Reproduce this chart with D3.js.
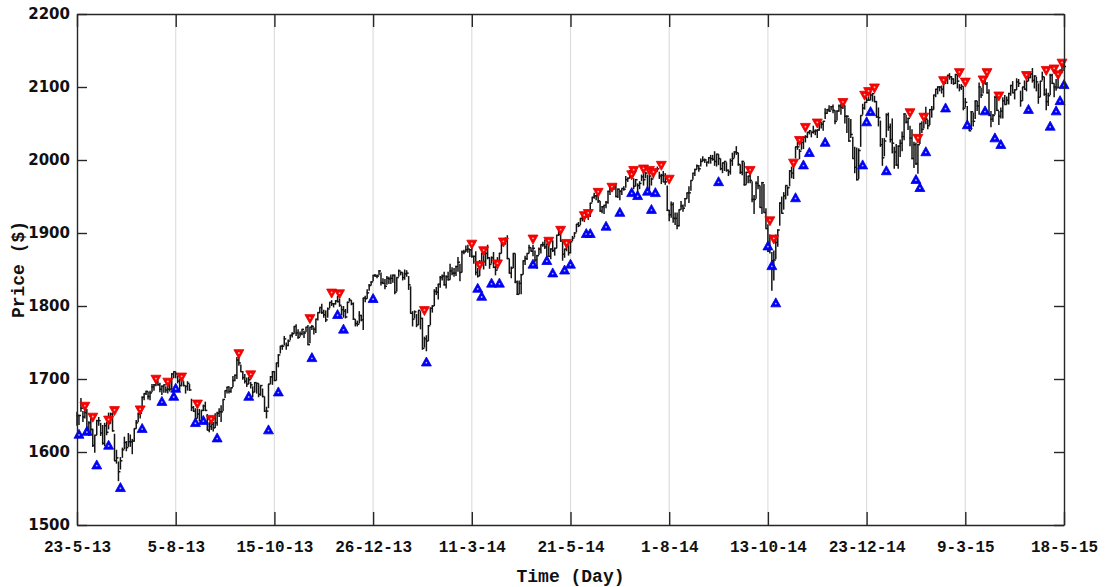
<!DOCTYPE html>
<html>
<head>
<meta charset="utf-8">
<script src="https://cdn.jsdelivr.net/npm/d3@7"></script>
<style>
  body { margin: 0; background: #fff; }
  svg { display: block; }
</style>
</head>
<body>
<svg id="chart" width="1105" height="587"></svg>
<script>
// Daily S&P 500 price bars, one entry per trading day (day 0 .. 500)
const closes = [
  1650,1650,1660,1648,1654,1631,1640,1631,1609,1623,
  1643,1643,1626,1612,1636,1627,1639,1652,1629,1588,
  1592,1573,1588,1603,1613,1606,1614,1614,1615,1632,
  1640,1652,1653,1675,1680,1683,1676,1681,1689,1692,
  1696,1692,1686,1690,1692,1685,1686,1686,1707,1710,
  1707,1697,1691,1698,1691,1690,1694,1685,1661,1656,
  1646,1652,1643,1657,1663,1657,1630,1635,1638,1633,
  1640,1653,1655,1655,1672,1684,1689,1683,1688,1698,
  1705,1726,1722,1710,1702,1697,1693,1699,1692,1682,
  1695,1694,1679,1691,1676,1656,1656,1693,1703,1710,
  1698,1722,1733,1745,1745,1755,1746,1752,1760,1762,
  1772,1763,1757,1762,1768,1763,1771,1747,1771,1772,
  1768,1782,1791,1798,1791,1788,1781,1796,1805,1803,
  1803,1807,1806,1801,1795,1793,1785,1805,1808,1803,
  1782,1776,1775,1787,1781,1811,1810,1818,1828,1833,
  1842,1841,1841,1848,1832,1831,1827,1838,1837,1838,
  1842,1819,1839,1848,1846,1839,1844,1845,1829,1790,
  1782,1792,1774,1794,1783,1742,1755,1752,1773,1797,
  1800,1820,1819,1830,1839,1841,1829,1840,1836,1848,
  1845,1845,1854,1860,1846,1874,1874,1877,1878,1877,
  1868,1868,1846,1841,1859,1872,1861,1872,1866,1857,
  1866,1853,1849,1858,1872,1886,1891,1889,1865,1845,
  1852,1872,1833,1816,1831,1843,1862,1865,1872,1880,
  1875,1879,1863,1869,1878,1884,1884,1881,1885,1868,
  1878,1876,1879,1897,1898,1889,1871,1878,1885,1873,
  1888,1893,1900,1912,1910,1920,1924,1925,1924,1928,
  1941,1949,1951,1951,1944,1930,1936,1938,1942,1957,
  1960,1963,1963,1950,1960,1957,1961,1960,1973,1975,
  1985,1978,1964,1973,1965,1968,1977,1973,1982,1958,
  1978,1974,1984,1987,1988,1978,1979,1970,1970,1931,
  1925,1939,1920,1920,1910,1932,1937,1934,1947,1955,
  1955,1972,1982,1987,1992,1988,1998,2000,2000,1997,
  2003,2002,2001,1998,2008,2002,1988,1996,1998,1986,
  1984,1999,2002,2011,2010,1994,1983,1998,1966,1983,
  1978,1972,1946,1946,1968,1965,1935,1969,1928,1906,
  1875,1878,1862,1863,1887,1904,1941,1927,1951,1965,
  1962,1985,1982,1995,2018,2018,2012,2024,2031,2032,
  2038,2040,2038,2039,2040,2041,2052,2049,2053,2064,
  2069,2067,2073,2068,2053,2067,2074,2072,2075,2060,
  2060,2026,2035,2002,1990,1973,2013,2061,2071,2079,
  2082,2082,2089,2091,2080,2059,2058,2021,2003,2026,
  2062,2045,2028,2023,2011,1993,2019,2023,2032,2063,
  2052,2057,2030,2002,2021,1995,2021,2050,2042,2063,
  2056,2047,2069,2069,2089,2097,2100,2100,2097,2110,
  2110,2116,2114,2111,2105,2117,2108,2099,2101,2071,
  2079,2044,2040,2066,2053,2081,2074,2100,2089,2108,
  2104,2092,2061,2056,2061,2086,2068,2060,2067,2081,
  2076,2082,2091,2102,2092,2096,2107,2105,2081,2100,
  2097,2108,2113,2118,2109,2115,2107,2086,2108,2114,
  2090,2080,2088,2116,2105,2100,2099,2121,2123,2129,
  2128
];

const highs = [
  1655,1651,1674,1656,1662,1659,1642,1647,1632,1623,
  1644,1648,1640,1637,1640,1641,1654,1654,1654,1625,
  1603,1587,1593,1606,1621,1615,1626,1624,1618,1632,
  1644,1654,1655,1676,1680,1684,1683,1684,1693,1693,
  1697,1698,1695,1691,1692,1690,1694,1699,1708,1710,
  1710,1705,1700,1705,1697,1690,1697,1693,1673,1663,
  1660,1659,1659,1657,1665,1669,1652,1641,1646,1641,
  1653,1655,1660,1664,1672,1684,1689,1690,1688,1704,
  1706,1730,1730,1720,1711,1707,1702,1703,1696,1690,
  1696,1694,1694,1691,1687,1676,1662,1693,1704,1711,
  1711,1722,1734,1745,1747,1759,1750,1754,1760,1764,
  1772,1775,1768,1765,1768,1766,1771,1774,1771,1774,
  1771,1782,1791,1798,1803,1795,1794,1798,1805,1808,
  1804,1808,1814,1810,1800,1800,1796,1806,1811,1808,
  1805,1782,1780,1793,1788,1811,1814,1823,1830,1834,
  1842,1844,1843,1849,1846,1838,1837,1841,1840,1843,
  1843,1843,1839,1850,1847,1846,1850,1849,1841,1827,
  1793,1794,1789,1794,1793,1784,1758,1760,1774,1798,
  1801,1823,1826,1830,1841,1843,1847,1842,1847,1858,
  1853,1852,1855,1867,1858,1876,1877,1883,1884,1878,
  1883,1869,1875,1852,1863,1873,1874,1874,1884,1867,
  1868,1874,1855,1867,1873,1886,1893,1894,1897,1865,
  1854,1872,1872,1835,1835,1844,1862,1869,1872,1884,
  1880,1884,1876,1870,1880,1884,1888,1891,1885,1885,
  1879,1890,1880,1897,1903,1898,1888,1878,1886,1884,
  1889,1896,1901,1912,1915,1920,1924,1926,1926,1928,
  1941,1949,1955,1951,1950,1944,1937,1938,1944,1958,
  1963,1964,1964,1968,1961,1959,1961,1964,1978,1976,
  1986,1983,1975,1974,1968,1971,1980,1983,1984,1980,
  1980,1976,1986,1988,1991,1984,1981,1985,1982,1965,
  1932,1943,1942,1928,1928,1932,1944,1939,1948,1955,
  1964,1972,1982,1988,1994,1993,2002,2005,2002,1998,
  2004,2007,2007,2012,2008,2008,2002,1996,1998,1997,
  1987,2002,2010,2012,2019,2010,1994,1999,1997,1984,
  1978,1985,1971,1952,1971,1978,1965,1970,1967,1934,
  1912,1898,1874,1876,1898,1905,1942,1950,1956,1965,
  1964,1986,1991,1999,2018,2025,2015,2024,2032,2034,
  2038,2040,2039,2047,2042,2042,2056,2052,2053,2071,
  2070,2075,2074,2076,2068,2068,2076,2077,2078,2075,
  2061,2058,2056,2032,2018,2017,2016,2061,2077,2079,
  2086,2087,2093,2091,2088,2081,2072,2054,2030,2030,
  2064,2065,2050,2057,2018,2022,2020,2028,2039,2064,
  2062,2058,2047,2042,2025,2024,2022,2050,2053,2064,
  2073,2055,2070,2074,2089,2097,2101,2101,2102,2111,
  2111,2116,2119,2115,2112,2118,2117,2104,2104,2101,
  2085,2074,2050,2067,2065,2081,2081,2106,2099,2108,
  2114,2107,2097,2067,2063,2088,2088,2067,2072,2086,
  2089,2087,2092,2103,2108,2097,2112,2111,2095,2100,
  2109,2109,2121,2120,2126,2116,2114,2105,2108,2121,
  2114,2098,2092,2118,2118,2105,2111,2121,2124,2131,
  2134
];

const lows = [
  1636,1637,1655,1641,1646,1631,1622,1623,1607,1599,
  1623,1636,1622,1610,1608,1623,1631,1639,1628,1588,
  1584,1560,1576,1592,1604,1601,1607,1607,1597,1614,
  1632,1641,1646,1662,1671,1678,1672,1671,1682,1684,
  1690,1691,1682,1678,1681,1681,1680,1683,1686,1701,
  1701,1694,1684,1690,1690,1680,1684,1684,1656,1655,
  1646,1646,1642,1645,1656,1656,1630,1627,1630,1628,
  1633,1636,1648,1641,1656,1674,1680,1680,1681,1689,
  1697,1700,1718,1710,1699,1694,1689,1693,1687,1675,
  1682,1680,1675,1677,1675,1655,1646,1660,1693,1692,
  1697,1698,1716,1735,1740,1746,1740,1745,1753,1757,
  1762,1759,1755,1758,1760,1756,1764,1747,1749,1767,
  1761,1763,1780,1790,1789,1784,1778,1784,1797,1800,
  1798,1802,1805,1799,1787,1784,1783,1790,1806,1801,
  1781,1772,1772,1776,1779,1767,1805,1810,1821,1828,
  1834,1840,1838,1842,1828,1830,1823,1829,1830,1830,
  1832,1816,1820,1840,1842,1835,1836,1840,1822,1790,
  1772,1783,1771,1774,1768,1740,1743,1738,1752,1774,
  1791,1800,1815,1809,1825,1835,1828,1824,1835,1836,
  1842,1840,1841,1847,1834,1846,1871,1874,1873,1867,
  1866,1858,1842,1839,1841,1858,1850,1855,1864,1851,
  1858,1852,1842,1850,1858,1872,1883,1884,1864,1845,
  1838,1852,1831,1815,1816,1816,1843,1856,1863,1872,
  1875,1868,1860,1851,1870,1872,1881,1878,1867,1867,
  1864,1874,1869,1879,1896,1888,1862,1866,1875,1869,
  1872,1889,1894,1901,1908,1911,1916,1915,1921,1918,
  1922,1942,1947,1945,1941,1929,1927,1926,1934,1940,
  1952,1957,1959,1949,1948,1945,1952,1958,1962,1970,
  1975,1975,1960,1964,1953,1960,1971,1965,1975,1955,
  1959,1965,1975,1984,1984,1974,1967,1970,1966,1930,
  1916,1921,1914,1911,1905,1909,1932,1929,1936,1947,
  1941,1958,1973,1978,1987,1984,1991,1998,1996,1991,
  1995,1995,1999,1992,1991,1993,1986,1982,1985,1984,
  1978,1980,1992,2003,2007,1992,1981,1979,1965,1966,
  1968,1968,1942,1926,1947,1960,1935,1926,1928,1906,
  1874,1872,1821,1835,1864,1881,1910,1927,1932,1946,
  1951,1964,1975,1974,2002,2014,2001,2014,2015,2024,
  2030,2035,2031,2036,2034,2030,2040,2043,2040,2056,
  2063,2066,2068,2064,2049,2054,2066,2062,2070,2050,
  2037,2025,2030,2002,1982,1972,1974,2018,2062,2069,
  2078,2082,2082,2080,2079,2058,2046,2018,1992,2005,
  2031,2040,2024,2009,1988,1992,1988,2004,2012,2027,
  2050,2041,2019,2001,1989,1993,1981,2022,2037,2043,
  2049,2042,2048,2058,2069,2086,2090,2094,2091,2086,
  2104,2104,2110,2104,2103,2104,2098,2094,2096,2068,
  2072,2044,2040,2041,2046,2056,2067,2062,2085,2091,
  2104,2091,2061,2045,2052,2062,2067,2048,2057,2057,
  2076,2076,2076,2088,2092,2083,2096,2100,2073,2081,
  2097,2094,2108,2112,2106,2098,2094,2077,2086,2109,
  2088,2068,2074,2089,2104,2086,2095,2100,2117,2119,
  2122
];

// Time axis: tick every 50 trading days, labelled with the date
const xTickDays = [0, 50, 100, 150, 200, 250, 300, 350, 400, 450, 500];
const xTickLabels = ["23-5-13", "5-8-13", "15-10-13", "26-12-13", "11-3-14",
                     "21-5-14", "1-8-14", "13-10-14", "23-12-14", "9-3-15", "18-5-15"];
const yTickValues = [1500, 1600, 1700, 1800, 1900, 2000, 2100, 2200];

// Sell signals (red, pointing down)
const sellDays = [4, 8, 16, 19, 32, 40, 46, 53, 61, 68, 82, 88, 118, 129, 133, 176,
  200, 204, 206, 213, 216, 231, 239, 245, 248, 257, 259, 264, 271, 281, 282, 287,
  290, 292, 296, 300, 341, 351, 353, 363, 366, 369, 375, 388, 399, 401, 404, 422, 426, 429,
  439, 447, 450, 459, 461, 467, 481, 491, 495, 497, 499];
const sellPrices = [1662, 1647, 1643, 1656, 1657, 1699, 1695, 1702, 1665, 1644, 1734, 1705, 1782, 1817, 1816, 1793,
  1884, 1855, 1875, 1857, 1887, 1891, 1888, 1903, 1885, 1923, 1926, 1955, 1962, 1979, 1985, 1987,
  1985, 1982, 1992, 1973, 1985, 1916, 1891, 1995, 2026, 2044, 2050, 2078, 2088, 2093, 2098, 2064, 2029, 2058,
  2108, 2119, 2106, 2109, 2119, 2087, 2115, 2122, 2124, 2116, 2132];

// Buy signals (blue, pointing up)
const buyDays = [1, 5, 10, 16, 22, 33, 43, 49, 50, 60, 64, 71, 87, 97, 102, 119, 132, 135,
  150, 177, 203, 205, 210, 214, 231, 238, 241, 247, 250, 258, 260, 268, 275, 281, 284,
  289, 291, 293, 325, 350, 352, 354, 364, 368, 371, 379, 398, 400, 402, 410, 425, 427,
  430, 440, 451, 460, 465, 468, 482, 493, 496, 498, 500];
const buyPrices = [1625, 1629, 1583, 1610, 1552, 1633, 1670, 1677, 1688, 1641, 1644, 1620, 1677, 1631, 1683, 1730, 1789, 1769,
  1811, 1724, 1825, 1814, 1832, 1832, 1858, 1863, 1846, 1850, 1858, 1900, 1900, 1910, 1929, 1956, 1952,
  1958, 1933, 1956, 1971, 1883, 1856, 1805, 1949, 1994, 2011, 2025, 1994, 2053, 2067, 1986, 1974, 1963,
  2012, 2072, 2049, 2068, 2031, 2022, 2070, 2047, 2068, 2082, 2104];

const svg = d3.select("#chart");
const W = 1105, H = 587;
const plot = { left: 77, right: 1064, top: 14, bottom: 525 };

const x = d3.scaleLinear().domain([0, 500]).range([plot.left, plot.right]);
const y = d3.scaleLinear().domain([1500, 2200]).range([plot.bottom, plot.top]);

svg.append("rect").attr("width", W).attr("height", H).attr("fill", "#fff");

// vertical grid lines
svg.append("g")
  .selectAll("line")
  .data(xTickDays.slice(1, -1))
  .join("line")
  .attr("x1", d => x(d)).attr("x2", d => x(d))
  .attr("y1", plot.top).attr("y2", plot.bottom)
  .attr("stroke", "#dedede")
  .attr("stroke-width", 1.2);

// price bars: high-low range with a close tick
const bars = svg.append("g").attr("stroke", "#141414").attr("stroke-width", 1.5);
closes.forEach((c, i) => {
  const xi = x(i);
  bars.append("line")
    .attr("x1", xi).attr("x2", xi)
    .attr("y1", y(lows[i])).attr("y2", y(highs[i]));
  bars.append("line")
    .attr("x1", xi - 0.5).attr("x2", xi + 2)
    .attr("y1", y(c)).attr("y2", y(c));
});

// signal markers
const downTri = "M-5,-4.5L5,-4.5L0,4.5Z";
const upTri = "M-5,4.5L5,4.5L0,-4.5Z";

const sells = svg.append("g");
sellDays.forEach((d, i) => {
  const g = sells.append("g").attr("transform", `translate(${x(d)},${y(sellPrices[i])})`);
  g.append("path").attr("d", downTri).attr("fill", "#ff0000").attr("stroke", "#e00000").attr("stroke-width", 0.8);
  g.append("circle").attr("cx", 0).attr("cy", -1.2).attr("r", 0.9).attr("fill", "#ffb4b4");
});

const buys = svg.append("g");
buyDays.forEach((d, i) => {
  const g = buys.append("g").attr("transform", `translate(${x(d)},${y(buyPrices[i])})`);
  g.append("path").attr("d", upTri).attr("fill", "#0000ff").attr("stroke", "#0000e0").attr("stroke-width", 0.8);
  g.append("circle").attr("cx", 0).attr("cy", 1.2).attr("r", 0.9).attr("fill", "#b4b4ff");
});

// axes (box with inward ticks)
const axisColor = "#262626";
const xAxis = svg.append("g")
  .attr("transform", `translate(0,${plot.bottom})`)
  .call(d3.axisBottom(x).tickValues(xTickDays)
    .tickFormat((d, i) => xTickLabels[i])
    .tickSizeInner(-13).tickSizeOuter(0).tickPadding(16));
const xTop = svg.append("g")
  .attr("transform", `translate(0,${plot.top})`)
  .call(d3.axisTop(x).tickValues(xTickDays).tickFormat("")
    .tickSizeInner(-13).tickSizeOuter(0));
const yAxis = svg.append("g")
  .attr("transform", `translate(${plot.left},0)`)
  .call(d3.axisLeft(y).tickValues(yTickValues).tickFormat(d3.format("d"))
    .tickSizeInner(-10).tickSizeOuter(0).tickPadding(7));
const yRight = svg.append("g")
  .attr("transform", `translate(${plot.right},0)`)
  .call(d3.axisRight(y).tickValues(yTickValues).tickFormat("")
    .tickSizeInner(-10).tickSizeOuter(0));

[xAxis, xTop, yAxis, yRight].forEach(g => {
  g.selectAll(".domain").attr("stroke", axisColor).attr("stroke-width", 1.4);
  g.selectAll(".tick line").attr("stroke", axisColor).attr("stroke-width", 1.4);
});

xAxis.selectAll(".tick text")
  .attr("fill", "#111")
  .style("font-family", "'Liberation Mono', 'DejaVu Sans Mono', monospace")
  .style("font-weight", "bold")
  .style("font-size", "16px");

yAxis.selectAll(".tick text")
  .attr("fill", "#111")
  .style("font-family", "'DejaVu Sans', sans-serif")
  .style("font-weight", "bold")
  .style("font-size", "15px");

// axis titles
svg.append("text")
  .attr("x", (plot.left + plot.right) / 2)
  .attr("y", 582)
  .attr("text-anchor", "middle")
  .attr("fill", "#111")
  .style("font-family", "'Liberation Mono', monospace")
  .style("font-weight", "bold")
  .style("font-size", "18px")
  .text("Time (Day)");

svg.append("text")
  .attr("transform", `translate(24,${(plot.top + plot.bottom) / 2}) rotate(-90)`)
  .attr("text-anchor", "middle")
  .attr("fill", "#111")
  .style("font-family", "'Liberation Mono', monospace")
  .style("font-weight", "bold")
  .style("font-size", "18px")
  .text("Price ($)");
</script>
</body>
</html>
